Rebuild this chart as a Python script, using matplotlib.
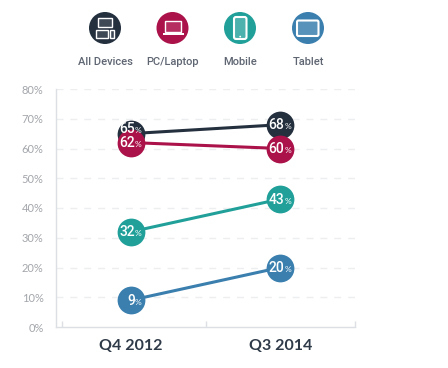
import numpy as np
import matplotlib
matplotlib.use('Agg')
import matplotlib.pyplot as plt
from matplotlib.patches import Circle, Rectangle, FancyBboxPatch

# data
quarters = ['Q4 2012', 'Q3 2014']
all_devices = [65, 68]
pc_laptop = [62, 60]
mobile = [32, 43]
tablet = [9, 20]
y_ticks = [0, 10, 20, 30, 40, 50, 60, 70, 80]
names = ['All Devices', 'PC/Laptop', 'Mobile', 'Tablet']
colors = ['#25303f', '#ab1249', '#21a09a', '#3a7fae']

W, H = 448, 368
plt.rcParams['font.family'] = ['Lato', 'DejaVu Sans']
medium = ['Roboto', 'DejaVu Sans']

fig = plt.figure(figsize=(W / 100, H / 100), dpi=100)

# main axes, box in pixels
left, right, top, bottom = 56, 355, 89, 327
ax = fig.add_axes([left / W, 1 - bottom / H, (right - left) / W, (bottom - top) / H])
ax.set_xlim(-0.5, 1.5)
ax.set_ylim(0, 80)

for s in ['top', 'right']:
    ax.spines[s].set_visible(False)
for s in ['left', 'bottom']:
    ax.spines[s].set_color('#dcdfe3')
    ax.spines[s].set_linewidth(1.0)

ax.set_yticks(y_ticks)
ax.set_yticklabels(['%d%%' % v for v in y_ticks], color='#a3a6ab', fontsize=8)
ax.tick_params(axis='y', length=0, pad=9)
ax.set_xticks([-0.46, 0.5, 1.5])
ax.set_xticklabels([])
ax.tick_params(axis='x', direction='in', length=4, color='#dcdfe3', width=1)

for v in y_ticks[1:]:
    ax.axhline(v, color='#eceef0', lw=1, dashes=(5, 5), zorder=1)

xs = np.arange(len(quarters))
for i, vals in enumerate([all_devices, pc_laptop, mobile, tablet]):
    ax.plot(xs, vals, color=colors[i], lw=2.2, solid_capstyle='butt', zorder=3 + i,
            marker='o', ms=20, mew=0, clip_on=False)
    for x, v in zip(xs, vals):
        # the 65 label sits high in its circle so it clears the one below
        dy = 3.5 if v == 65 else -0.5
        ax.annotate(str(v), (x, v), xytext=(3, dy), textcoords='offset points',
                    ha='right', va='center', color='white', fontsize=10,
                    family=medium, fontweight='medium', zorder=10 + i)
        ax.annotate('%', (x, v), xytext=(3, dy - 1), textcoords='offset points',
                    ha='left', va='center', color='white', fontsize=6, zorder=10 + i)

for x, q in zip(xs, quarters):
    ax.annotate(q, (x, 0), xytext=(0, -13.5), textcoords='offset points', ha='center',
                va='center', color='#2f3a48', fontsize=11.5, fontweight='bold')

# legend icons drawn in pixel coordinates
ov = fig.add_axes([0, 0, 1, 1])
ov.set_xlim(0, W)
ov.set_ylim(H, 0)
ov.axis('off')
ov.patch.set_alpha(0)

centers = [105, 172.5, 240, 308]
icon_lw = 1.0
fc = '#ffffff'


def box(x, y, w, h):
    ov.add_patch(Rectangle((x, y), w, h, fc=(1, 1, 1, 0.12), ec=fc, lw=icon_lw))


for cx, name, col in zip(centers, names, colors):
    ov.add_patch(Circle((cx, 28), 16, fc=col, ec='none'))
    ov.text(cx, 62, name, ha='center', va='center', color='#5f6672', fontsize=8,
            family=medium, fontweight='medium')

# all devices
box(98, 18, 14, 8.5)
box(96, 29.5, 12, 8)
box(109.5, 29.5, 4.5, 8)
# laptop
box(164.5, 21, 16, 11)
ov.add_patch(Rectangle((162.5, 33), 21, 2.2, fc=fc, ec='none'))
# mobile
ov.add_patch(FancyBboxPatch((234, 17), 12.5, 22, boxstyle='round,pad=0,rounding_size=2',
                            fc=(1, 1, 1, 0.2), ec=fc, lw=icon_lw * 1.5))
ov.add_patch(Circle((240.2, 36.6), 0.9, fc=fc, ec='none'))
# tablet
ov.add_patch(FancyBboxPatch((297, 20.5), 21.5, 15.5, boxstyle='round,pad=0,rounding_size=1.5',
                            fc=(1, 1, 1, 0.15), ec=fc, lw=icon_lw * 1.5))

fig.savefig('out.png', dpi=100)
